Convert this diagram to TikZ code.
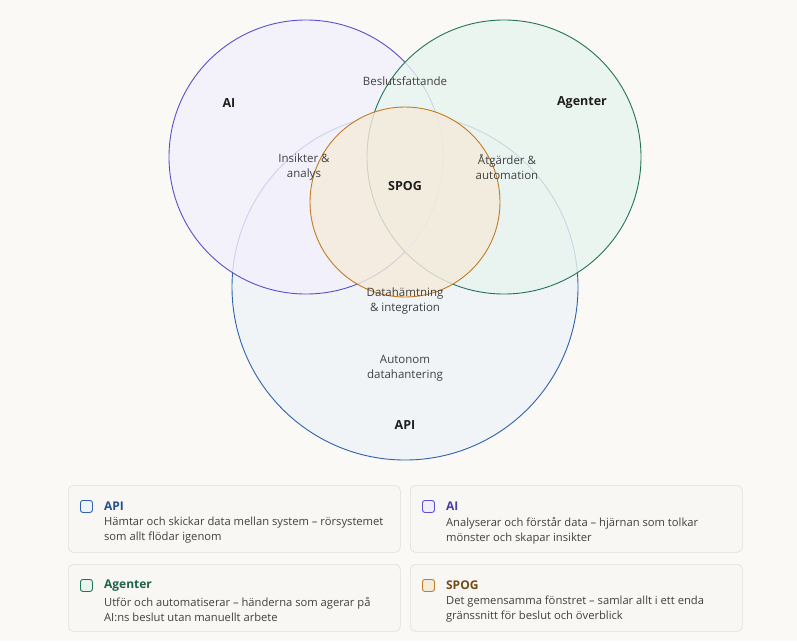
\documentclass[tikz,border=0pt]{standalone}
\usepackage{fontspec}
\setmainfont{Open Sans}
\usetikzlibrary{positioning}

\definecolor{bgcol}{HTML}{FAF9F6}
\definecolor{ailine}{HTML}{5B4FCC}
\definecolor{aifill}{HTML}{F2EFFC}
\definecolor{agline}{HTML}{23735A}
\definecolor{agfill}{HTML}{E8F5EF}
\definecolor{apiline}{HTML}{2F62AE}
\definecolor{apifill}{HTML}{EEF3F8}
\definecolor{spline}{HTML}{C27C25}
\definecolor{spfill}{HTML}{F5EBDA}
\definecolor{boxline}{HTML}{E2DFD8}
\definecolor{boxfill}{HTML}{F8F7F3}
\definecolor{zonetxt}{HTML}{404040}
\definecolor{tagtxt}{HTML}{1E1E1E}

\begin{document}
\begin{tikzpicture}[
  x=1pt, y=-1pt,
  set/.style={circle, draw, line width=0.9pt, inner sep=0pt, fill opacity=0.8},
  tag/.style={font=\fontsize{12.5}{15}\selectfont\bfseries, text=tagtxt},
  zone/.style={font=\fontsize{11.5}{14.5}\selectfont, text=zonetxt, align=center, inner sep=0pt},
  card/.style={draw=boxline, fill=boxfill, rounded corners=5pt, minimum width=332pt, minimum height=67pt, anchor=north west, inner sep=0pt, line width=0.6pt},
  chk/.style={rectangle, rounded corners=2.5pt, minimum size=12pt, inner sep=0pt, line width=0.9pt},
  ttl/.style={font=\fontsize{12}{14}\selectfont\bfseries, inner sep=0pt},
  desc/.style={font=\fontsize{11.2}{15}\selectfont, text=zonetxt, align=left, inner sep=0pt}]
\fill[bgcol] (0,0) rectangle (797,641);
\useasboundingbox (0,0) rectangle (797,641);
\node[set, draw=apiline, fill=apifill, minimum size=346pt] (api) at (405,287) {};
\node[set, draw=ailine, fill=aifill, minimum size=274pt] (ai) at (306,157) {};
\node[set, draw=agline, fill=agfill, minimum size=274pt] (agent) at (504,157) {};
\node[set, draw=spline, fill=spfill, minimum size=190pt] (spog) at (405,202) {};
\node[tag] (ailbl) at (229,103) {AI};
\node[tag] (aglbl) at (582,103) {Agenter};
\node[tag] (splbl) at (405,186) {SPOG};
\node[tag] (apilbl) at (405,425) {API};
\node[zone] (beslut) at (405,81) {Beslutsfattande};
\node[zone] (insikt) at (304,167) {Insikter \&\\analys};
\node[zone] (atgard) at (507,167) {Åtgärder \&\\automation};
\node[zone] (datah) at (405,301) {Datahämtning\\\& integration};
\node[zone] (auton) at (405,368) {Autonom\\datahantering};
\node[card] (capi) at (68,485) {};
\node[card] (cai) at (410,485) {};
\node[card] (cag) at (68,564) {};
\node[card] (csp) at (410,564) {};
\node[chk, draw=apiline, fill=apifill, below right=15pt and 12pt of capi.north west] (kapi) {};
\node[chk, draw=ailine, fill=aifill, below right=15pt and 12pt of cai.north west] (kai) {};
\node[chk, draw=agline, fill=agfill, below right=15pt and 12pt of cag.north west] (kag) {};
\node[chk, draw=spline, fill=spfill, below right=15pt and 12pt of csp.north west] (ksp) {};
\node[ttl, text=apiline!80!black, right=11pt of kapi] (tapi) {API};
\node[ttl, text=ailine!80!black, right=11pt of kai] (tai) {AI};
\node[ttl, text=agline!85!black, right=11pt of kag] (tag) {Agenter};
\node[ttl, text=spline!60!black, right=11pt of ksp] (tsp) {SPOG};
\node[desc, below right=6pt and 0pt of tapi.south west] (dapi) {Hämtar och skickar data mellan system – rörsystemet\\som allt flödar igenom};
\node[desc, below right=6pt and 0pt of tai.south west] (dai) {Analyserar och förstår data – hjärnan som tolkar\\mönster och skapar insikter};
\node[desc, below right=6pt and 0pt of tag.south west] (dag) {Utför och automatiserar – händerna som agerar på\\AI:ns beslut utan manuellt arbete};
\node[desc, below right=6pt and 0pt of tsp.south west] (dsp) {Det gemensamma fönstret – samlar allt i ett enda\\gränssnitt för beslut och överblick};
\end{tikzpicture}
\end{document}
